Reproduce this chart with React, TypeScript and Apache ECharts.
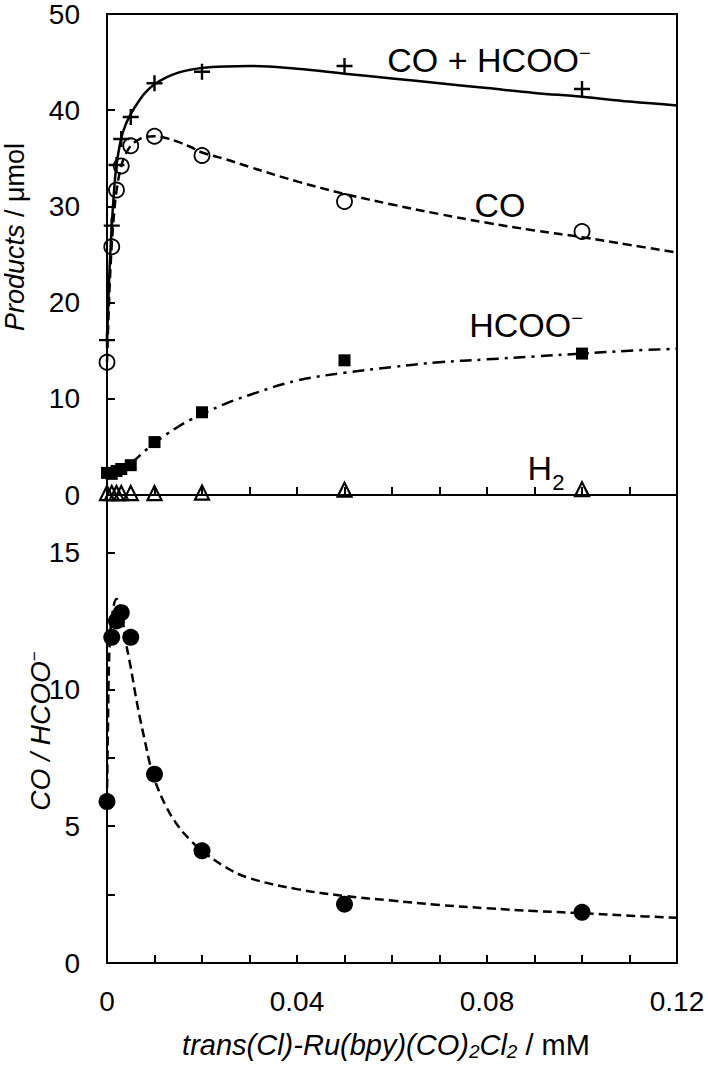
import React, { useEffect, useRef } from 'react';
import * as echarts from 'echarts';

const W = 708;
const H = 1065;
const FONT = '"Liberation Sans", Arial, Helvetica, sans-serif';

// measured concentrations (mM)
const conc = [0, 0.001, 0.002, 0.003, 0.005, 0.01, 0.02, 0.05, 0.1];
// products (µmol)
const sumVals = [16.1, 28.0, 34.3, 37.0, 39.3, 42.8, 44.0, 44.6, 42.2];
const coVals = [13.8, 25.8, 31.7, 34.2, 36.3, 37.3, 35.3, 30.5, 27.4];
const hcooVals = [2.3, 2.2, 2.5, 2.7, 3.1, 5.5, 8.6, 14.0, 14.7];
const h2Vals = [0.2, 0.2, 0.2, 0.2, 0.2, 0.2, 0.25, 0.55, 0.6];
// CO / HCOO- ratio
const ratioVals = [5.9, 11.9, 12.5, 12.8, 11.9, 6.9, 4.1, 2.15, 1.85];

// fitted curves
const fitX = [0, 0.0005, 0.001, 0.0015, 0.002, 0.003, 0.004, 0.005, 0.0065, 0.008, 0.01, 0.0125, 0.015, 0.0175, 0.02, 0.025, 0.03, 0.04, 0.05, 0.06, 0.07, 0.08, 0.09, 0.1, 0.11, 0.12];
const sumFitY = [16.0, 23.0, 28.0, 31.7, 34.3, 37.1, 38.6, 39.6, 40.8, 41.8, 42.7, 43.4, 43.9, 44.2, 44.4, 44.55, 44.6, 44.3, 43.8, 43.3, 42.8, 42.3, 41.8, 41.4, 40.9, 40.5];
const coFitY = [13.8, 21.0, 26.0, 29.3, 31.6, 34.2, 35.5, 36.3, 36.9, 37.2, 37.3, 37.1, 36.7, 36.2, 35.6, 34.9, 34.1, 32.6, 31.3, 30.2, 29.2, 28.3, 27.5, 26.8, 26.0, 25.2];
const hcooFitX = [0, 0.002, 0.004, 0.006, 0.008, 0.01, 0.0125, 0.015, 0.0175, 0.02, 0.025, 0.03, 0.04, 0.05, 0.06, 0.07, 0.08, 0.09, 0.1, 0.11, 0.12];
const hcooFitY = [2.3, 2.5, 2.9, 3.7, 4.6, 5.4, 6.3, 7.1, 7.8, 8.4, 9.5, 10.4, 11.9, 12.7, 13.3, 13.8, 14.1, 14.4, 14.7, 15.0, 15.2];
const ratioFitX = [0, 0.0002, 0.0005, 0.001, 0.002, 0.003, 0.004, 0.005, 0.006, 0.007, 0.008, 0.009, 0.01, 0.0125, 0.015, 0.0175, 0.02, 0.025, 0.03, 0.04, 0.05, 0.06, 0.07, 0.08, 0.09, 0.1, 0.11, 0.12];
const ratioFitY = [5.9, 8.6, 11.4, 12.6, 13.3, 12.8, 11.7, 10.8, 9.8, 8.9, 8.1, 7.3, 6.7, 5.7, 5.0, 4.5, 4.1, 3.5, 3.1, 2.7, 2.45, 2.28, 2.12, 2.0, 1.9, 1.82, 1.73, 1.65];

const xTickLabels = ['0', '0.04', '0.08', '0.12'];

const pairs = (xs: number[], ys: number[]) => xs.map((x, i) => [x, ys[i]]);

const GL = 107;
const GR = 677;
const GT = 14;
const GM = 495;
const GB = 963;

const TICK = 28;
const ANN = 34;
const TITLE = 29;

const axisLineStyle = { lineStyle: { color: '#000', width: 2 } };
const tickStyle = { show: true, inside: true, length: 8, lineStyle: { color: '#000', width: 2 } };

function xLabel(v: number) {
  const k = v / 0.04;
  if (Math.abs(k - Math.round(k)) < 1e-6) {
    const idx = Math.round(k);
    return xTickLabels[idx] ?? '';
  }
  return '';
}

export default function App() {
  const ref = useRef<HTMLDivElement>(null);
  useEffect(() => {
    document.body.style.margin = '0';
    const chart = echarts.init(ref.current!, null, { renderer: 'svg' });
    const fitLine = (data: number[][], type: any, width = 2.5, xi = 0) => ({
      type: 'line',
      xAxisIndex: xi,
      yAxisIndex: xi,
      data,
      showSymbol: false,
      symbol: 'none',
      smooth: 0.4,
      silent: true,
      z: 2,
      lineStyle: { color: '#000', width, type },
    });
    const option: any = {
      animation: false,
      backgroundColor: '#fff',
      grid: [
        { left: GL, right: W - GR, top: GT, height: GM - GT, show: true, borderColor: '#000', borderWidth: 2, backgroundColor: 'transparent' },
        { left: GL, right: W - GR, top: GM, height: GB - GM, show: true, borderColor: '#000', borderWidth: 2, backgroundColor: 'transparent' },
      ],
      xAxis: [
        { type: 'value', gridIndex: 0, min: 0, max: 0.12, interval: 0.01, axisLine: axisLineStyle, axisTick: tickStyle, axisLabel: { show: false }, splitLine: { show: false } },
        {
          type: 'value', gridIndex: 1, min: 0, max: 0.12, interval: 0.01, axisLine: axisLineStyle, axisTick: tickStyle,
          axisLabel: { formatter: xLabel, color: '#000', fontSize: TICK, fontFamily: FONT, margin: 24 },
          splitLine: { show: false },
        },
      ],
      yAxis: [
        {
          type: 'value', gridIndex: 0, min: 0, max: 50, interval: 10, axisLine: axisLineStyle, axisTick: tickStyle,
          axisLabel: { color: '#000', fontSize: TICK, fontFamily: FONT, margin: 27 }, splitLine: { show: false },
        },
        {
          type: 'value', gridIndex: 1, min: 0, max: 17.1, interval: 2.5, axisLine: axisLineStyle, axisTick: tickStyle,
          axisLabel: {
            color: '#000', fontSize: TICK, fontFamily: FONT, margin: 27,
            formatter: (v: number) => (Math.abs(v % 5) < 1e-6 ? String(v) : ''),
          },
          splitLine: { show: false },
        },
      ],
      series: [
        fitLine(pairs(fitX, sumFitY), 'solid', 2.5),
        fitLine(pairs(fitX, coFitY), [9, 5], 2.5),
        fitLine(pairs(hcooFitX, hcooFitY), [12, 6, 3, 6], 2.5),
        fitLine(pairs(ratioFitX, ratioFitY), [9, 5], 2.5, 1),
        {
          type: 'scatter', xAxisIndex: 0, yAxisIndex: 0, data: pairs(conc, sumVals), z: 5,
          symbol: 'path://M0,10L20,10M10,0L10,20', symbolSize: 16,
          itemStyle: { color: 'rgba(0,0,0,0)', borderColor: '#000', borderWidth: 2.4, opacity: 1 },
        },
        {
          type: 'scatter', xAxisIndex: 0, yAxisIndex: 0, data: pairs(conc, coVals), z: 5,
          symbol: 'circle', symbolSize: 15,
          itemStyle: { color: 'rgba(255,255,255,0)', borderColor: '#000', borderWidth: 1.8, opacity: 1 },
        },
        {
          type: 'scatter', xAxisIndex: 0, yAxisIndex: 0, data: pairs(conc, hcooVals), z: 5,
          symbol: 'rect', symbolSize: 12, itemStyle: { color: '#000', opacity: 1 },
        },
        {
          type: 'scatter', xAxisIndex: 0, yAxisIndex: 0, data: pairs(conc, h2Vals), z: 6,
          symbol: 'triangle', symbolSize: 14,
          itemStyle: { color: 'rgba(255,255,255,0)', borderColor: '#000', borderWidth: 2.2, opacity: 1 },
        },
        {
          type: 'scatter', xAxisIndex: 1, yAxisIndex: 1, data: pairs(conc, ratioVals), z: 5,
          symbol: 'circle', symbolSize: 17, itemStyle: { color: '#000', opacity: 1 },
        },
      ],
      graphic: [
        {
          type: 'text', x: 489, y: 43, z: 10,
          style: {
            text: '{a|CO + HCOO}{s|\u2212}', align: 'center', verticalAlign: 'top',
            rich: {
              a: { fontSize: ANN, fontFamily: FONT, fill: '#000', lineHeight: 38, verticalAlign: 'top' },
              s: { fontSize: 20, fontFamily: FONT, fill: '#000', lineHeight: 20, verticalAlign: 'top' },
            },
          },
        },
        {
          type: 'text', x: 500, y: 205, z: 10,
          style: { text: 'CO', fontSize: ANN, fontFamily: FONT, fill: '#000', align: 'center', verticalAlign: 'middle' },
        },
        {
          type: 'text', x: 526, y: 308, z: 10,
          style: {
            text: '{a|HCOO}{s|\u2212}', align: 'center', verticalAlign: 'top',
            rich: {
              a: { fontSize: ANN, fontFamily: FONT, fill: '#000', lineHeight: 38, verticalAlign: 'top' },
              s: { fontSize: 20, fontFamily: FONT, fill: '#000', lineHeight: 20, verticalAlign: 'top' },
            },
          },
        },
        {
          type: 'text', x: 546, y: 451, z: 10,
          style: {
            text: '{a|H}{b|2}', align: 'center', verticalAlign: 'top',
            rich: {
              a: { fontSize: ANN, fontFamily: FONT, fill: '#000', lineHeight: 38, verticalAlign: 'top' },
              b: { fontSize: 22, fontFamily: FONT, fill: '#000', lineHeight: 22, verticalAlign: 'top', padding: [20, 0, 0, 0] },
            },
          },
        },
        {
          type: 'text', x: 15, y: 237, rotation: Math.PI / 2, z: 10,
          style: {
            text: '{i|Products}{n| / \u03bcmol}', align: 'center', verticalAlign: 'middle',
            rich: {
              i: { fontSize: 27, fontFamily: FONT, fontStyle: 'italic', fill: '#000', lineHeight: 32 },
              n: { fontSize: 27, fontFamily: FONT, fill: '#000', lineHeight: 32 },
            },
          },
        },
        {
          type: 'text', x: 26, y: 731, rotation: Math.PI / 2, z: 10,
          style: {
            text: '{i|CO / HCOO}{s|\u2212}', align: 'center', verticalAlign: 'top',
            rich: {
              i: { fontSize: 28, fontFamily: FONT, fontStyle: 'italic', fill: '#000', lineHeight: 32, verticalAlign: 'top' },
              s: { fontSize: 17, fontFamily: FONT, fill: '#000', lineHeight: 17, verticalAlign: 'top' },
            },
          },
        },
        {
          type: 'text', x: 386, y: 1030, z: 10,
          style: {
            text: '{i|trans(Cl)-Ru(bpy)(CO)}{s|2}{i|Cl}{s|2}{n| / mM}', align: 'center', verticalAlign: 'top',
            rich: {
              i: { fontSize: TITLE, fontFamily: FONT, fontStyle: 'italic', fill: '#000', lineHeight: 30, verticalAlign: 'top' },
              s: { fontSize: 19, fontFamily: FONT, fontStyle: 'italic', fill: '#000', lineHeight: 19, verticalAlign: 'top', padding: [12, 0, 0, 0] },
              n: { fontSize: TITLE, fontFamily: FONT, fill: '#000', lineHeight: 30, verticalAlign: 'top' },
            },
          },
        },
      ],
    };
    chart.setOption(option);
    return () => chart.dispose();
  }, []);
  return <div ref={ref} style={{ width: W, height: H, background: '#fff' }} />;
}
